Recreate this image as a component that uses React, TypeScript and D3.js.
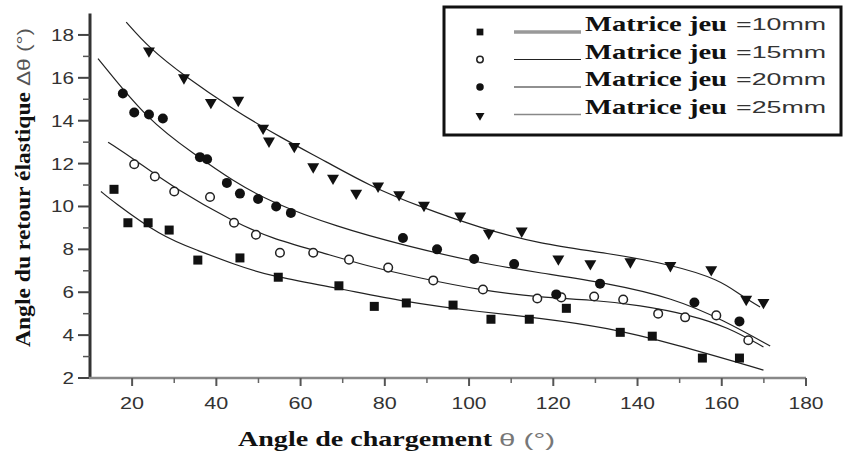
import * as d3 from 'd3';

// measured points, [angle de chargement, retour élastique]
const pts10 = [[15.7,10.8],[19.0,9.24],[23.8,9.24],[28.8,8.9],[35.6,7.5],[45.6,7.6],[54.7,6.7],[69.1,6.3],[77.5,5.34],[85.1,5.5],[96.2,5.4],[105.2,4.74],[114.3,4.74],[123.1,5.25],[135.9,4.13],[143.5,3.95],[155.4,2.93],[164.2,2.93]];
const pts15 = [[20.5,11.97],[25.4,11.4],[30.0,10.7],[38.5,10.44],[44.2,9.24],[49.4,8.68],[55.1,7.84],[63.0,7.84],[71.5,7.52],[80.8,7.15],[91.5,6.55],[103.3,6.13],[116.2,5.71],[121.9,5.76],[129.7,5.8],[136.6,5.66],[144.9,5.0],[151.3,4.83],[158.7,4.92],[166.3,3.76]];
const pts20 = [[17.8,15.27],[20.5,14.38],[24.0,14.29],[27.3,14.1],[36.1,12.3],[37.8,12.2],[42.5,11.1],[45.6,10.6],[49.9,10.35],[54.2,10.0],[57.7,9.7],[84.3,8.53],[92.4,8.0],[101.2,7.55],[110.7,7.32],[120.7,5.9],[131.1,6.4],[153.5,5.52],[164.2,4.64]];
const pts25 = [[24.0,17.3],[32.3,16.05],[38.7,14.9],[45.2,15.0],[51.1,13.7],[52.5,13.1],[58.5,12.85],[63.0,11.9],[67.7,11.37],[73.2,10.67],[78.4,11.0],[83.4,10.6],[89.3,10.1],[97.9,9.6],[104.7,8.8],[112.5,8.9],[121.2,7.6],[128.8,7.38],[138.3,7.47],[147.8,7.29],[157.5,7.1],[165.8,5.72],[169.9,5.57]];

// fitted curves
const fit10 = [[12.6,10.7],[15,10.3],[26.9,8.6],[35.6,7.95],[44.2,7.3],[52.8,6.75],[68.7,6.2],[84.3,5.56],[102.6,5.08],[116.9,4.8],[132.8,4.35],[148.5,3.6],[169.9,2.37]];
const fit15 = [[14.3,13.0],[20.5,12.2],[30,10.85],[44.2,9.28],[52.8,8.53],[64.6,7.88],[76.5,7.18],[88.4,6.66],[102.6,6.1],[116.9,5.75],[128.8,5.65],[140.6,5.4],[152.5,4.94],[161.3,4.38],[169.9,3.45]];
const fit20 = [[11.9,16.9],[23.8,14.0],[34.7,12.45],[44.2,11.15],[53,10.2],[68.7,9.04],[84.3,8.2],[102.6,7.36],[116.9,6.9],[132.8,6.43],[148.5,5.73],[160.4,4.7],[171.5,3.49]];
const fit25 = [[18.6,18.6],[24,17.4],[32.3,16.1],[44.2,14.5],[55.4,13.2],[66,12.1],[76.5,10.95],[88.4,9.98],[102.6,9.0],[116.9,8.25],[132.8,7.83],[148.5,7.27],[159.6,6.57],[164.4,5.87],[169.1,5.31]];

const legendNames = ['Matrice jeu', 'Matrice jeu', 'Matrice jeu', 'Matrice jeu'];
const legendGaps = ['=10mm', '=15mm', '=20mm', '=25mm'];

const xMajor = [20, 40, 60, 80, 100, 120, 140, 160, 180];
const xMinor = [30, 50, 70, 90, 110, 130, 150, 170];
const yMajor = [2, 4, 6, 8, 10, 12, 14, 16, 18];
const yMinor = [3, 5, 7, 9, 11, 13, 15, 17];

const serif = '"Liberation Serif", "DejaVu Serif", serif';
const sans = '"Liberation Sans", Arial, sans-serif';

function Marker({ kind, cx, cy, s = 1 }) {
  if (kind === 0) return <rect x={cx - 4.5 * s} y={cy - 4.5 * s} width={9 * s} height={9 * s} fill="#111" />;
  if (kind === 1) return <circle cx={cx} cy={cy} r={4.3 * s} fill="#fff" stroke="#222" strokeWidth={1.5} />;
  if (kind === 2) return <circle cx={cx} cy={cy} r={5 * s} fill="#111" />;
  const tri = d3.symbol().type(d3.symbolTriangle).size(62 * s * s)();
  return <path d={tri} transform={`translate(${cx},${cy + 1}) rotate(180)`} fill="#111" />;
}

export default function App() {
  const x = d3.scaleLinear().domain([10, 180]).range([90, 806]);
  const y = d3.scaleLinear().domain([2, 19]).range([378, 13.5]);
  const line = d3.line().x(d => x(d[0])).y(d => y(d[1])).curve(d3.curveBasis);

  const points = [pts10, pts15, pts20, pts25];
  const fits = [fit10, fit15, fit20, fit25];
  const legendLine = [
    { stroke: '#999', w: 3.5 },
    { stroke: '#222', w: 1.2 },
    { stroke: '#222', w: 1.2 },
    { stroke: '#888', w: 1.6 },
  ];

  return (
    <svg width={845} height={452} style={{ position: 'absolute', left: 0, top: 0, background: '#fff' }}>
      {/* fits */}
      {fits.map((f, i) => (
        <path key={i} d={line(f)} fill="none" stroke="#222" strokeWidth={1.2} />
      ))}
      {/* points */}
      {points.map((p, i) => p.map((d, j) => (
        <Marker key={`${i}-${j}`} kind={i} cx={x(d[0])} cy={y(d[1])} />
      )))}

      {/* y axis */}
      <line x1={90} x2={90} y1={y(19)} y2={y(2) + 1} stroke="#333" strokeWidth={3} />
      {yMajor.map(v => (
        <g key={v}>
          <line x1={78} x2={90} y1={y(v)} y2={y(v)} stroke="#444" strokeWidth={2} />
          <text x={74} y={y(v) + 6} textAnchor="end" fontFamily={sans} fontSize={17} fill="#333"
            textLength={v >= 10 ? 23 : 11.5} lengthAdjust="spacingAndGlyphs">{v}</text>
        </g>
      ))}
      {yMinor.map(v => (
        <line key={v} x1={83} x2={90} y1={y(v)} y2={y(v)} stroke="#555" strokeWidth={1.5} />
      ))}

      {/* x axis */}
      <line x1={89} x2={806} y1={378} y2={378} stroke="#888" strokeWidth={2.5} />
      {xMajor.map(v => (
        <g key={v}>
          <line x1={x(v)} x2={x(v)} y1={378} y2={386} stroke="#555" strokeWidth={2} />
          <text x={x(v)} y={409} textAnchor="middle" fontFamily={sans} fontSize={17} fill="#333"
            textLength={v >= 100 ? 35 : 24} lengthAdjust="spacingAndGlyphs">{v}</text>
        </g>
      ))}
      {xMinor.map(v => (
        <line key={v} x1={x(v)} x2={x(v)} y1={378} y2={383} stroke="#666" strokeWidth={1.5} />
      ))}

      {/* axis titles */}
      <text x={238} y={446} fontFamily={serif} fontWeight="bold" fontSize={22} fill="#111"
        textLength={254} lengthAdjust="spacingAndGlyphs">Angle de chargement</text>
      <text x={499} y={446} fontFamily={sans} fontSize={19} fill="#777"
        textLength={56} lengthAdjust="spacingAndGlyphs">θ (°)</text>

      <g transform="translate(30,347) rotate(-90)">
        <text x={0} y={0} fontFamily={serif} fontWeight="bold" fontSize={21} fill="#111"
          textLength={255} lengthAdjust="spacingAndGlyphs">Angle du retour élastique</text>
        <text x={261} y={0} fontFamily={sans} fontSize={18} fill="#555"
          textLength={58} lengthAdjust="spacingAndGlyphs">Δθ (°)</text>
      </g>

      {/* legend */}
      <rect x={444} y={7} width={397} height={128} fill="#fff" stroke="#111" strokeWidth={3} />
      {legendGaps.map((g, i) => {
        const ly = 32 + i * 27.5;
        return (
          <g key={g}>
            <Marker kind={i} cx={480} cy={ly} s={0.75} />
            <line x1={514} x2={581} y1={ly} y2={ly} stroke={legendLine[i].stroke} strokeWidth={legendLine[i].w} />
            <text x={585} y={ly - 1} fontFamily={serif} fontWeight="bold" fontSize={21} fill="#111"
              textLength={142} lengthAdjust="spacingAndGlyphs">{legendNames[i]}</text>
            <text x={736} y={ly - 2} fontFamily={sans} fontSize={16} fill="#333"
              textLength={90} lengthAdjust="spacingAndGlyphs">{g}</text>
          </g>
        );
      })}
    </svg>
  );
}
